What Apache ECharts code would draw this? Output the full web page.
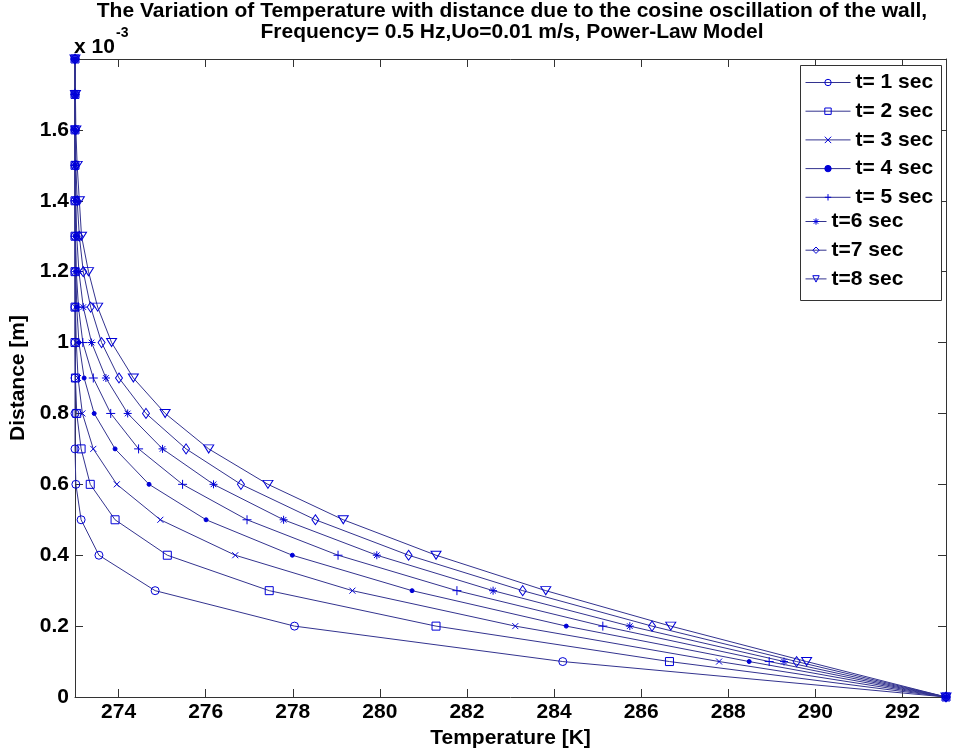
<!DOCTYPE html>
<html>
<head>
<meta charset="utf-8">
<script src="https://cdn.jsdelivr.net/npm/echarts@6/dist/echarts.min.js"></script>
<style>
    html, body {margin: 0; padding: 0; background: #fff;}
    #chart-temperature-distance {width: 971px; height: 751px;}
</style>
</head>
<body>
<div id="chart-temperature-distance"></div>
<script>
// distance from the wall [m], one marker per step
let distance = [0, 0.0001, 0.0002, 0.0003, 0.0004, 0.0005, 0.0006, 0.0007, 0.0008, 0.0009,
    0.0010, 0.0011, 0.0012, 0.0013, 0.0014, 0.0015, 0.0016, 0.0017, 0.0018];

// temperature [K], same order as distance
let tempT1 = [293, 284.20, 278.04, 274.84, 273.55, 273.14, 273.02, 273.00, 273.00, 273.00,
    273.00, 273.00, 273.00, 273.00, 273.00, 273.00, 273.00, 273.00, 273.00];
let tempT2 = [293, 286.65, 281.29, 277.46, 275.12, 273.92, 273.35, 273.14, 273.04, 273.01,
    273.00, 273.00, 273.00, 273.00, 273.00, 273.00, 273.00, 273.00, 273.00];
let tempT3 = [293, 287.79, 283.11, 279.37, 276.68, 274.96, 273.96, 273.42, 273.17, 273.07,
    273.03, 273.01, 273.00, 273.00, 273.00, 273.00, 273.00, 273.00, 273.00];
let tempT4 = [293, 288.48, 284.28, 280.74, 277.99, 276.01, 274.70, 273.92, 273.44, 273.21,
    273.09, 273.04, 273.02, 273.01, 273.00, 273.00, 273.00, 273.00, 273.00];
let tempT5 = [293, 288.94, 285.12, 281.77, 279.04, 276.95, 275.47, 274.46, 273.82, 273.42,
    273.18, 273.08, 273.03, 273.01, 273.00, 273.00, 273.00, 273.00, 273.00];
let tempT6 = [293, 289.28, 285.74, 282.60, 279.93, 277.79, 276.18, 275.01, 274.21, 273.71,
    273.38, 273.19, 273.09, 273.04, 273.02, 273.01, 273.00, 273.00, 273.00];
let tempT7 = [293, 289.57, 286.25, 283.28, 280.66, 278.52, 276.81, 275.55, 274.63, 274.01,
    273.61, 273.36, 273.19, 273.10, 273.05, 273.02, 273.01, 273.00, 273.00];
let tempT8 = [293, 289.80, 286.68, 283.81, 281.29, 279.16, 277.43, 276.07, 275.07, 274.34,
    273.84, 273.52, 273.31, 273.15, 273.10, 273.05, 273.02, 273.01, 273.00];

let seriesNames = ['t= 1 sec', 't= 2 sec', 't= 3 sec', 't= 4 sec', 't= 5 sec', 't=6 sec', 't=7 sec', 't=8 sec'];
let xTickValues = [274, 276, 278, 280, 282, 284, 286, 288, 290, 292];

let fontMain = "'Liberation Sans', Arial, sans-serif";
let markerColor = '#0000d8';
let lineColor = '#33338f';
let axisColor = '#333';
let noFill = 'rgba(0,0,0,0)';

// marker look per series (matlab o, s, x, ., +, *, d, v)
let markers = [
    {symbol: 'circle', size: 8, fill: noFill},
    {symbol: 'rect', size: 8, fill: noFill},
    {symbol: 'path://M0,0L10,10M10,0L0,10', size: 6, fill: noFill},
    {symbol: 'circle', size: 4, fill: markerColor},
    {symbol: 'path://M5,0L5,10M0,5L10,5', size: 9, fill: noFill},
    {symbol: 'path://M5,0L5,10M0,5L10,5M1.5,1.5L8.5,8.5M8.5,1.5L1.5,8.5', size: 8, fill: noFill},
    {symbol: 'diamond', size: [7, 10], fill: noFill},
    {symbol: 'path://M0,0L10,0L5,9Z', size: [10, 8], fill: noFill}
];

function buildLineSeries(name, temps, marker) {
    return {
        name: name,
        type: 'line',
        data: temps.map(function (t, i) { return [t, distance[i]]; }),
        symbol: marker.symbol,
        symbolSize: marker.size,
        showSymbol: true,
        clip: false,
        animation: false,
        lineStyle: {color: lineColor, width: 1},
        itemStyle: {color: marker.fill, borderColor: markerColor, borderWidth: 1},
        emphasis: {disabled: true}
    };
}

function legendItem(i) {
    return {
        name: seriesNames[i],
        itemStyle: {color: markers[i].fill, borderColor: markerColor, borderWidth: 1},
        lineStyle: {color: lineColor, width: 1}
    };
}

function tickLabelY(value) {
    let v = Math.round(value * 10000) / 10;
    if (v >= 1.8) return '';
    return String(v);
}

let allTemps = [tempT1, tempT2, tempT3, tempT4, tempT5, tempT6, tempT7, tempT8];
let seriesList = allTemps.map(function (temps, i) {
    return buildLineSeries(seriesNames[i], temps, markers[i]);
});

let labelStyle = {fontFamily: fontMain, fontSize: 21, fontWeight: 'bold', color: '#000'};
let legendBase = {
    orient: 'vertical',
    padding: 0,
    itemHeight: 8,
    itemGap: 7.7,
    selectedMode: false,
    textStyle: {fontFamily: fontMain, fontSize: 21, fontWeight: 'bold', color: '#000', lineHeight: 20}
};

let chartDom = document.getElementById('chart-temperature-distance');
let myChart = echarts.init(chartDom);
let option = {
    backgroundColor: '#fff',
    animation: false,
    title: {
        text: 'The Variation of Temperature with distance due to the cosine oscillation of the wall,\nFrequency= 0.5 Hz,Uo=0.01 m/s, Power-Law Model',
        left: 512,
        top: 1,
        padding: 0,
        textAlign: 'center',
        textStyle: {fontFamily: fontMain, fontSize: 21, fontWeight: 'bold', color: '#000', lineHeight: 21}
    },
    grid: {left: 75, right: 25, top: 59, bottom: 54, containLabel: false, outerBoundsMode: 'none'},
    legend: [
        Object.assign({}, legendBase, {
            data: [0, 1, 2, 3, 4].map(legendItem), left: 805, top: 72, itemWidth: 45
        }),
        Object.assign({}, legendBase, {
            data: [5, 6, 7].map(legendItem), left: 805, top: 211, itemWidth: 21
        })
    ],
    xAxis: [
        {
            type: 'value',
            min: 273,
            max: 293,
            position: 'bottom',
            name: 'Temperature [K]',
            nameLocation: 'middle',
            nameGap: 27,
            nameTextStyle: labelStyle,
            axisLine: {show: true, lineStyle: {color: axisColor, width: 1}},
            axisTick: {show: true, inside: true, length: 8, customValues: xTickValues, lineStyle: {color: axisColor}},
            axisLabel: Object.assign({margin: 5, customValues: xTickValues}, labelStyle),
            splitLine: {show: false}
        },
        {
            type: 'value',
            min: 273,
            max: 293,
            position: 'top',
            axisLine: {show: true, onZero: false, lineStyle: {color: axisColor, width: 1}},
            axisTick: {show: true, inside: true, length: 8, customValues: xTickValues, lineStyle: {color: axisColor}},
            axisLabel: {show: false},
            splitLine: {show: false}
        }
    ],
    yAxis: [
        {
            type: 'value',
            min: 0,
            max: 0.0018,
            interval: 0.0002,
            position: 'left',
            name: 'Distance [m]',
            nameLocation: 'middle',
            nameGap: 41,
            nameTextStyle: labelStyle,
            axisLine: {show: true, lineStyle: {color: axisColor, width: 1}},
            axisTick: {show: true, inside: true, length: 8, lineStyle: {color: axisColor}},
            axisLabel: Object.assign({margin: 6, formatter: tickLabelY}, labelStyle),
            splitLine: {show: false}
        },
        {
            type: 'value',
            min: 0,
            max: 0.0018,
            interval: 0.0002,
            position: 'right',
            axisLine: {show: true, onZero: false, lineStyle: {color: axisColor, width: 1}},
            axisTick: {show: true, inside: true, length: 8, lineStyle: {color: axisColor}},
            axisLabel: {show: false},
            splitLine: {show: false}
        }
    ],
    graphic: [
        {
            type: 'rect',
            z: 3,
            shape: {x: 800.5, y: 65.5, width: 141, height: 235},
            style: {fill: '#fff', stroke: axisColor, lineWidth: 1}
        },
        {
            type: 'text',
            left: 74,
            top: 37,
            style: {text: 'x 10', font: "bold 21px 'Liberation Sans', Arial, sans-serif", fill: '#000'}
        },
        {
            type: 'text',
            left: 116,
            top: 26,
            style: {text: '-3', font: "bold 14px 'Liberation Sans', Arial, sans-serif", fill: '#000'}
        }
    ],
    series: seriesList
};
option && myChart.setOption(option);
</script>
</body>
</html>
